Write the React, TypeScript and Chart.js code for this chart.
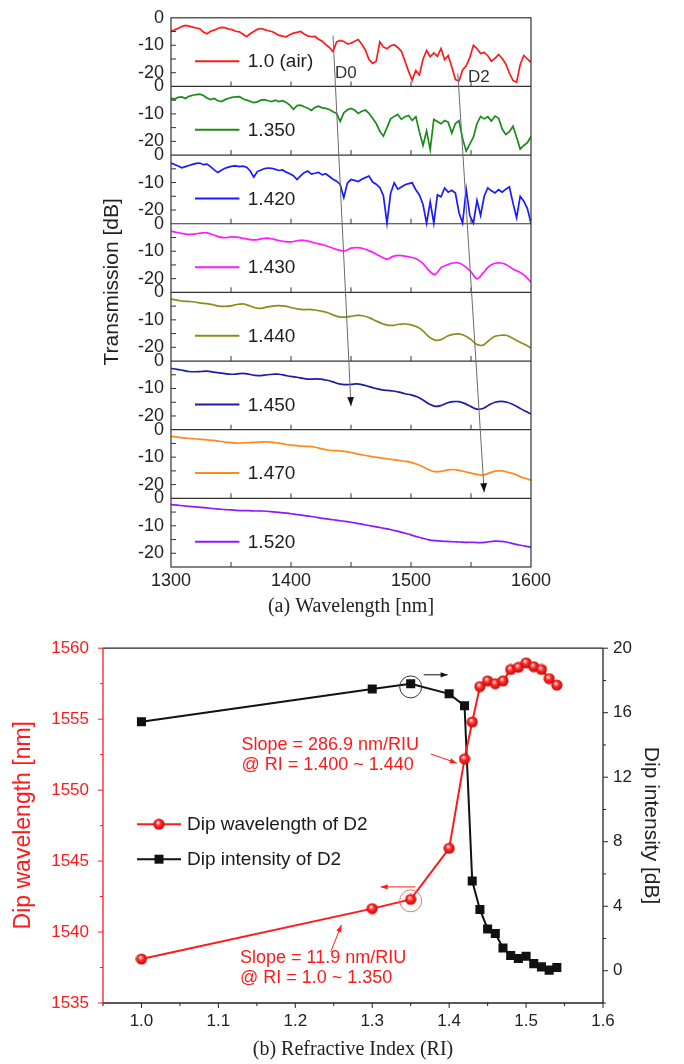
import React, { useEffect, useRef } from "react";
import { Chart, registerables } from "chart.js";
Chart.register(...registerables);

const SANS = '"Liberation Sans", Arial, sans-serif';
const SERIF = '"Liberation Serif", "Times New Roman", serif';

// ---------- (a) transmission spectra ----------
const WL_FINE = Array.from({ length: 101 }, (_, i) => 1300 + 3 * i);
const WL_COARSE = Array.from({ length: 61 }, (_, i) => 1300 + 5 * i);
const WL_TICKS = [1300, 1400, 1500, 1600];
const WL_MINOR = [1350, 1400, 1450, 1500, 1550];
const PANEL_STEP = 25;

const T_AIR = [
  -5.0, -4.4, -3.8, -3.2, -2.8, -3.0, -3.4, -3.7, -4.0, -5.2,
  -5.8, -4.9, -4.5, -3.9, -3.5, -3.6, -4.1, -4.3, -4.9, -5.1,
  -6.0, -6.9, -5.8, -5.0, -4.2, -3.9, -4.3, -4.7, -5.0, -5.6,
  -6.4, -6.7, -6.9, -6.2, -5.6, -5.3, -5.0, -5.9, -6.6, -6.9,
  -6.8, -7.8, -8.5, -9.8, -10.8, -12.3, -8.8, -8.2, -8.6, -9.5,
  -9.3, -8.5, -7.9, -9.6, -11.8, -15.2, -16.6, -15.8, -8.8, -10.6,
  -11.3, -10.2, -9.8, -10.8, -12.2, -15.8, -19.5, -22.7, -19.2, -20.8,
  -15.1, -11.9, -14.2, -12.8, -14.0, -11.2, -15.2, -13.8, -17.8, -22.5,
  -23.0, -19.0, -17.5, -14.5, -10.0, -11.2, -13.0, -12.6, -13.8, -15.8,
  -14.8, -13.4, -14.8, -16.8, -20.2, -22.8, -23.5, -17.0, -13.7, -15.0,
  -16.2,
];
const T_1350 = [
  -4.3, -4.6, -4.0, -3.8, -4.4, -3.6, -3.2, -3.0, -2.8, -3.3,
  -4.2, -4.8, -4.4, -5.2, -5.5, -4.8, -4.3, -4.0, -3.8, -3.7,
  -4.5, -5.0, -5.4, -5.9, -5.6, -5.0, -4.8, -5.2, -5.5, -5.0,
  -5.5, -5.2, -5.8, -6.8, -8.3, -7.0, -6.8, -7.4, -7.9, -8.7,
  -7.6, -7.2, -7.8, -8.0, -8.4, -9.2, -9.8, -12.7, -9.6, -8.5,
  -8.0, -8.6, -9.8, -9.0, -8.6, -9.8, -11.6, -13.5, -16.3, -18.1,
  -15.0, -11.8, -10.9, -10.2, -12.0, -11.0, -10.6, -12.4, -11.0, -16.5,
  -21.5, -16.2, -23.0, -12.0, -12.8, -13.6, -12.4, -13.0, -17.0, -13.5,
  -12.5, -19.0, -23.5, -21.0, -18.5, -13.5, -10.9, -11.8, -11.0, -12.6,
  -10.8, -11.6, -15.5, -17.5, -16.5, -14.5, -18.5, -22.8, -21.5, -20.5,
  -18.2,
];
const T_1420 = [
  -2.9, -3.4, -4.0, -4.6, -4.2, -3.8, -3.4, -3.0, -2.9, -3.5,
  -3.3, -4.2, -5.4, -6.3, -5.5, -4.8, -4.4, -4.0, -3.9, -4.2,
  -4.0, -4.4, -5.8, -8.0, -6.0, -5.4, -4.9, -4.7, -4.8, -5.2,
  -5.6, -5.4, -6.2, -6.8, -7.5, -8.9, -7.6, -6.4, -5.8, -6.9,
  -6.6, -6.3, -7.2, -6.8, -7.8, -8.8, -9.5, -10.7, -15.5, -10.2,
  -8.9, -9.2, -9.6, -8.8, -8.2, -7.6, -9.8, -10.6, -11.8, -14.8,
  -24.8, -14.0, -10.1, -12.4, -11.6, -10.8, -10.4, -10.1, -12.6, -14.5,
  -18.0, -24.8, -17.0, -24.8, -14.5, -15.2, -12.0, -13.5, -12.8, -13.8,
  -21.0, -24.8, -12.5, -22.0, -24.8, -16.5, -22.0, -15.0, -11.9, -13.0,
  -13.8, -12.6, -13.5, -12.4, -11.6, -17.5, -22.8, -15.0, -16.8, -19.5,
  -24.8,
];
const T_1430 = [
  -2.7, -3.2, -3.6, -3.9, -3.7, -3.4, -3.3, -4.0, -4.8, -5.1,
  -4.8, -4.9, -5.3, -5.7, -5.9, -5.5, -5.2, -5.6, -6.1, -6.5,
  -6.6, -6.2, -6.0, -6.4, -7.0, -7.5, -8.1, -8.9, -9.6, -9.9,
  -8.9, -8.7, -9.0, -9.8, -10.8, -12.0, -12.9, -11.9, -11.5, -11.8,
  -12.2, -12.9, -14.5, -17.0, -18.5, -16.0, -15.0, -14.3, -14.3, -15.5,
  -17.5, -20.0, -18.0, -15.5, -14.4, -14.3, -15.0, -16.5, -17.5, -19.0,
  -21.3,
];
const T_1440 = [
  -2.4, -2.8, -3.2, -3.3, -3.5, -3.9, -4.1, -4.5, -5.0, -5.1,
  -4.9, -4.4, -4.2, -4.8, -5.6, -5.8, -5.3, -5.0, -4.8, -5.0,
  -5.5, -6.0, -6.3, -6.2, -6.4, -6.8, -7.3, -8.2, -8.9, -9.0,
  -8.7, -8.4, -8.5, -9.2, -10.2, -11.2, -11.9, -12.0, -11.6, -11.5,
  -11.8, -12.5, -14.0, -16.2, -17.4, -17.2, -16.0, -15.3, -15.1, -15.8,
  -17.2, -19.0, -19.2, -17.5, -16.0, -15.6, -15.7, -16.8, -18.0, -19.0,
  -20.2,
];
const T_1450 = [
  -2.7, -3.0, -3.4, -3.8, -3.9, -3.8, -3.7, -4.0, -4.3, -4.6,
  -4.8, -4.7, -4.5, -4.8, -5.2, -5.3, -5.0, -4.8, -4.8, -5.2,
  -5.6, -5.9, -6.3, -6.6, -6.5, -6.6, -7.0, -7.6, -8.3, -8.6,
  -8.5, -8.3, -8.7, -9.3, -9.9, -10.4, -10.7, -10.9, -11.3, -11.9,
  -12.3, -13.0, -14.2, -15.6, -16.5, -16.2, -15.3, -14.8, -14.8, -15.5,
  -16.6, -17.5, -17.3, -16.0, -15.0, -14.7, -15.0, -15.8, -17.0, -18.2,
  -19.3,
];
const T_1470 = [
  -2.4, -2.7, -3.0, -3.2, -3.3, -3.5, -3.7, -3.9, -4.2, -4.5,
  -4.7, -4.9, -4.8, -4.7, -4.6, -4.5, -4.4, -4.6, -4.9, -5.3,
  -5.6, -5.8, -6.0, -6.1, -6.4, -6.9, -7.4, -7.6, -7.7, -7.9,
  -8.3, -8.8, -9.2, -9.6, -10.0, -10.3, -10.6, -10.9, -11.2, -11.5,
  -11.9, -12.6, -13.5, -14.6, -15.3, -15.2, -14.7, -14.5, -14.8, -15.3,
  -15.8, -16.3, -16.5, -15.8, -15.1, -15.0, -15.4, -16.0, -16.9, -17.7,
  -18.4,
];
const T_1520 = [
  -2.3, -2.5, -2.7, -2.9, -3.1, -3.3, -3.5, -3.7, -3.9, -4.1,
  -4.2, -4.4, -4.5, -4.5, -4.6, -4.6, -4.7, -4.9, -5.1, -5.3,
  -5.6, -5.9, -6.2, -6.5, -6.8, -7.2, -7.5, -7.8, -8.1, -8.4,
  -8.7, -9.1, -9.5, -9.9, -10.3, -10.7, -11.1, -11.6, -12.1, -12.7,
  -13.3, -14.0, -14.6, -15.1, -15.4, -15.6, -15.7, -15.8, -15.9, -16.0,
  -16.0, -16.1, -16.1, -15.8, -15.6, -15.7, -16.0, -16.5, -17.0, -17.4,
  -17.8,
];

const PANEL_LABELS = ["1.0 (air)", "1.350", "1.420", "1.430", "1.440", "1.450", "1.470", "1.520"];
const PANEL_COLORS = ["#ff1a1a", "#1a8a1a", "#1a1aff", "#ff1aff", "#8c8c1a", "#1c1ca6", "#ff8a1a", "#8c1aff"];
const PANEL_VALUES = [T_AIR, T_1350, T_1420, T_1430, T_1440, T_1450, T_1470, T_1520];
const PANEL_WL = [WL_FINE, WL_FINE, WL_FINE, WL_COARSE, WL_COARSE, WL_COARSE, WL_COARSE, WL_COARSE];
const PANEL_Y_TICKS = [0, -10, -20];
const PANEL_Y_MINOR = [-5, -10, -15, -20];

// guide arrows D0 / D2 : [wavelength, offset value] start -> end
const D0_GUIDE = [[1435, -6.5], [1450, -141.4]];
const D2_GUIDE = [[1539, -20.2], [1561, -172.8]];

// ---------- (b) dip vs RI ----------
const RI = [1.0, 1.3, 1.35, 1.4, 1.42, 1.43, 1.44, 1.45, 1.46, 1.47, 1.48, 1.49, 1.5, 1.51, 1.52, 1.53, 1.54];
const DIP_WAVELENGTH = [1538.1, 1541.65, 1542.3, 1545.9, 1552.2, 1554.8, 1557.3, 1557.7, 1557.5, 1557.7, 1558.5, 1558.65, 1558.97, 1558.7, 1558.5, 1557.86, 1557.4];
const DIP_INTENSITY = [15.44, 17.47, 17.79, 17.17, 16.43, 5.56, 3.8, 2.59, 2.31, 1.41, 0.94, 0.76, 0.9, 0.44, 0.24, 0.04, 0.2];
const RI_TICKS = [1.0, 1.1, 1.2, 1.3, 1.4, 1.5, 1.6];
const WL_AXIS_TICKS = [1535, 1540, 1545, 1550, 1555, 1560];
const INT_AXIS_TICKS = [0, 4, 8, 12, 16, 20];

const RED = "#ff1a1a";

function line(ctx: CanvasRenderingContext2D, x1: number, y1: number, x2: number, y2: number) {
  ctx.beginPath();
  ctx.moveTo(x1, y1);
  ctx.lineTo(x2, y2);
  ctx.stroke();
}

function arrow(ctx: CanvasRenderingContext2D, x1: number, y1: number, x2: number, y2: number, color: string, headColor: string, head = 7, width = 1) {
  ctx.strokeStyle = color;
  ctx.lineWidth = width;
  line(ctx, x1, y1, x2, y2);
  const a = Math.atan2(y2 - y1, x2 - x1);
  const w = head * 0.38;
  ctx.fillStyle = headColor;
  ctx.beginPath();
  ctx.moveTo(x2, y2);
  ctx.lineTo(x2 - head * Math.cos(a) + w * Math.sin(a), y2 - head * Math.sin(a) - w * Math.cos(a));
  ctx.lineTo(x2 - head * Math.cos(a) - w * Math.sin(a), y2 - head * Math.sin(a) + w * Math.cos(a));
  ctx.closePath();
  ctx.fill();
}

function rotatedText(ctx: CanvasRenderingContext2D, text: string, x: number, y: number, font: string, color: string) {
  ctx.save();
  ctx.translate(x, y);
  ctx.rotate(-Math.PI / 2);
  ctx.font = font;
  ctx.fillStyle = color;
  ctx.textAlign = "center";
  ctx.textBaseline = "middle";
  ctx.fillText(text, 0, 0);
  ctx.restore();
}

function makeSphere(d: number) {
  const c = document.createElement("canvas");
  c.width = d;
  c.height = d;
  const g = c.getContext("2d")!;
  const r = d / 2;
  const grad = g.createRadialGradient(r * 0.8, r * 0.7, r * 0.1, r, r, r);
  grad.addColorStop(0, "#ffd6d6");
  grad.addColorStop(0.35, "#ff3030");
  grad.addColorStop(1, "#c40000");
  g.fillStyle = grad;
  g.beginPath();
  g.arc(r, r, r - 0.4, 0, Math.PI * 2);
  g.fill();
  return c;
}

const localLabel = (v: number) => {
  const local = v - PANEL_STEP * Math.ceil(v / PANEL_STEP - 1e-9);
  return String(Math.round(local) === 0 ? 0 : Math.round(local));
};

const topPlugin = {
  id: "topDecor",
  afterDatasetsDraw(chart: any) {
    const { ctx, chartArea: a, scales } = chart;
    const x = scales.x;
    const y = scales.y;
    ctx.save();
    ctx.strokeStyle = "#333";
    ctx.lineWidth = 1.2;
    ctx.strokeRect(a.left, a.top, a.right - a.left, a.bottom - a.top);
    for (let k = 1; k < PANEL_LABELS.length; k++) {
      const py = y.getPixelForValue(-PANEL_STEP * k);
      line(ctx, a.left, py, a.right, py);
    }
    ctx.lineWidth = 1;
    for (let k = 0; k < PANEL_LABELS.length; k++) {
      for (const v of PANEL_Y_MINOR) {
        const py = y.getPixelForValue(v - PANEL_STEP * k);
        line(ctx, a.left, py, a.left + 5, py);
      }
      const pb = y.getPixelForValue(-PANEL_STEP * (k + 1));
      for (const w of WL_MINOR) {
        const px = x.getPixelForValue(w);
        line(ctx, px, pb, px, pb - 5);
      }
    }
    // panel legends
    ctx.font = `19px ${SANS}`;
    ctx.textBaseline = "middle";
    ctx.textAlign = "left";
    for (let k = 0; k < PANEL_LABELS.length; k++) {
      const py = y.getPixelForValue(-15.8 - PANEL_STEP * k);
      ctx.strokeStyle = PANEL_COLORS[k];
      ctx.lineWidth = 2;
      line(ctx, x.getPixelForValue(1320), py, x.getPixelForValue(1357), py);
      ctx.fillStyle = "#1e1e1e";
      ctx.fillText(PANEL_LABELS[k], x.getPixelForValue(1364), py + 1);
    }
    // guide arrows
    for (const g of [D0_GUIDE, D2_GUIDE]) {
      arrow(ctx, x.getPixelForValue(g[0][0]), y.getPixelForValue(g[0][1]), x.getPixelForValue(g[1][0]), y.getPixelForValue(g[1][1]), "#6a6a6a", "#111", 9, 1);
    }
    ctx.fillStyle = "#333";
    ctx.font = `17px ${SANS}`;
    ctx.fillText("D0", x.getPixelForValue(1436.7), y.getPixelForValue(-20.3));
    ctx.fillText("D2", x.getPixelForValue(1547.5), y.getPixelForValue(-21.5));
    // y title
    rotatedText(ctx, "Transmission [dB]", a.left - 59, a.top + 264, `21px ${SANS}`, "#222");
    ctx.restore();
  },
};

const bottomPlugin = {
  id: "bottomDecor",
  afterDatasetsDraw(chart: any) {
    const { ctx, chartArea: a, scales } = chart;
    const x = scales.x;
    const y = scales.y;
    const y1 = scales.y1;
    ctx.save();
    // frame
    ctx.lineWidth = 1.3;
    ctx.strokeStyle = "#222";
    line(ctx, a.left, a.top, a.right, a.top);
    line(ctx, a.right, a.top, a.right, a.bottom);
    line(ctx, a.left, a.bottom, a.right, a.bottom);
    ctx.strokeStyle = RED;
    line(ctx, a.left, a.top, a.left, a.bottom);
    // ticks
    ctx.lineWidth = 1;
    for (let v = 1535; v <= 1560; v += 2.5) {
      const py = y.getPixelForValue(v);
      line(ctx, a.left, py, a.left - (v % 5 === 0 ? 5 : 3), py);
    }
    ctx.strokeStyle = "#222";
    for (let v = -2; v <= 20; v += 2) {
      const py = y1.getPixelForValue(v);
      line(ctx, a.right, py, a.right + (v % 4 === 0 ? 5 : 3), py);
    }
    for (let i = 0; i <= 13; i++) {
      const v = 0.95 + i * 0.05;
      const px = x.getPixelForValue(v);
      line(ctx, px, a.bottom, px, a.bottom + (i % 2 === 1 ? 5 : 3));
    }
    // legend
    const sphere = makeSphere(12);
    const ly1 = a.top + 176;
    const ly2 = a.top + 211;
    ctx.lineWidth = 2;
    ctx.strokeStyle = RED;
    line(ctx, a.left + 34, ly1, a.left + 78, ly1);
    ctx.drawImage(sphere, a.left + 56 - 6, ly1 - 6);
    ctx.strokeStyle = "#111";
    line(ctx, a.left + 34, ly2, a.left + 78, ly2);
    ctx.fillStyle = "#111";
    ctx.fillRect(a.left + 56 - 4.5, ly2 - 4.5, 9, 9);
    ctx.font = `19px ${SANS}`;
    ctx.textAlign = "left";
    ctx.textBaseline = "middle";
    ctx.fillStyle = "#1a1a1a";
    ctx.fillText("Dip wavelength of D2", a.left + 84, ly1 + 1);
    ctx.fillText("Dip intensity of D2", a.left + 84, ly2 + 1);
    // annotations
    ctx.fillStyle = RED;
    ctx.font = `18px ${SANS}`;
    ctx.fillText("Slope = 286.9 nm/RIU", x.getPixelForValue(1.13), y.getPixelForValue(1553.2));
    ctx.fillText("@ RI = 1.400 ~ 1.440", x.getPixelForValue(1.13), y.getPixelForValue(1551.8));
    ctx.fillText("Slope = 11.9 nm/RIU", x.getPixelForValue(1.128), y.getPixelForValue(1538.14));
    ctx.fillText("@ RI = 1.0 ~ 1.350", x.getPixelForValue(1.128), y.getPixelForValue(1536.76));
    arrow(ctx, x.getPixelForValue(1.376), y.getPixelForValue(1552.55), x.getPixelForValue(1.41), y.getPixelForValue(1551.9), RED, RED, 7, 1);
    arrow(ctx, x.getPixelForValue(1.246), y.getPixelForValue(1538.6), x.getPixelForValue(1.26), y.getPixelForValue(1540.5), RED, RED, 7, 1);
    arrow(ctx, x.getPixelForValue(1.356), y.getPixelForValue(1543.18), x.getPixelForValue(1.311), y.getPixelForValue(1543.18), RED, RED, 7, 1);
    arrow(ctx, x.getPixelForValue(1.367), y1.getPixelForValue(18.35), x.getPixelForValue(1.398), y1.getPixelForValue(18.35), "#111", "#111", 7, 1);
    ctx.lineWidth = 1;
    ctx.strokeStyle = "#333";
    ctx.beginPath();
    ctx.arc(x.getPixelForValue(1.35), y1.getPixelForValue(17.6), 11, 0, Math.PI * 2);
    ctx.stroke();
    ctx.strokeStyle = "#ff6a6a";
    ctx.beginPath();
    ctx.arc(x.getPixelForValue(1.35), y.getPixelForValue(1542.2), 11, 0, Math.PI * 2);
    ctx.stroke();
    // left title
    rotatedText(ctx, "Dip wavelength [nm]", 24, a.top + 177, `23px ${SANS}`, RED);
    ctx.restore();
  },
};

export default function App() {
  const topRef = useRef<HTMLCanvasElement>(null);
  const botRef = useRef<HTMLCanvasElement>(null);

  useEffect(() => {
    const topDatasets = PANEL_VALUES.map((vals, k) => ({
      label: PANEL_LABELS[k],
      data: PANEL_WL[k].map((w, i) => ({ x: w, y: vals[i] - PANEL_STEP * k })),
      borderColor: PANEL_COLORS[k],
      borderWidth: 1.7,
      pointRadius: 0,
      tension: k >= 3 ? 0.35 : 0,
      fill: false,
    }));

    const c1 = new Chart(topRef.current!, {
      type: "line",
      data: { datasets: topDatasets as any },
      options: {
        responsive: false,
        animation: false,
        events: [],
        layout: { padding: { top: 14, right: 153, left: 0, bottom: 0 } },
        plugins: { legend: { display: false }, tooltip: { enabled: false } },
        scales: {
          x: {
            type: "linear",
            min: 1300,
            max: 1600,
            afterBuildTicks: (s: any) => { s.ticks = WL_TICKS.map((v) => ({ value: v })); },
            afterFit: (s: any) => { s.height = 57; },
            grid: { display: false, drawTicks: false },
            border: { display: false },
            ticks: { padding: 3, color: "#222", font: { family: SANS, size: 18 }, autoSkip: false, maxRotation: 0, callback: (v: any) => String(v) },
            title: { display: true, text: "(a) Wavelength [nm]", color: "#222", font: { family: SERIF, size: 20 }, padding: { top: 0, bottom: 5 } },
          },
          y: {
            type: "linear",
            min: -PANEL_STEP * PANEL_LABELS.length,
            max: 0,
            afterBuildTicks: (s: any) => {
              const t: any[] = [];
              for (let k = 0; k < PANEL_LABELS.length; k++) for (const v of PANEL_Y_TICKS) t.push({ value: v - PANEL_STEP * k });
              s.ticks = t;
            },
            afterFit: (s: any) => { s.width = 171; },
            grid: { display: false, drawTicks: false },
            border: { display: false },
            ticks: { padding: 7, color: "#222", font: { family: SANS, size: 18 }, autoSkip: false, callback: (v: any) => localLabel(Number(v)) },
            title: { display: false },
          },
        },
      },
      plugins: [topPlugin],
    } as any);

    const sphere = makeSphere(12);
    const c2 = new Chart(botRef.current!, {
      type: "line",
      data: {
        datasets: [
          {
            label: "Dip wavelength of D2",
            data: RI.map((r, i) => ({ x: r, y: DIP_WAVELENGTH[i] })),
            yAxisID: "y",
            borderColor: RED,
            borderWidth: 2,
            pointStyle: sphere,
            pointRadius: 6,
            tension: 0,
          },
          {
            label: "Dip intensity of D2",
            data: RI.map((r, i) => ({ x: r, y: DIP_INTENSITY[i] })),
            yAxisID: "y1",
            borderColor: "#111",
            backgroundColor: "#111",
            borderWidth: 2,
            pointStyle: "rect",
            pointRadius: 6.4,
            pointBorderWidth: 0,
            tension: 0,
          },
        ],
      },
      options: {
        responsive: false,
        animation: false,
        events: [],
        layout: { padding: { top: 13, right: 0, left: 0, bottom: 0 } },
        plugins: { legend: { display: false }, tooltip: { enabled: false } },
        scales: {
          x: {
            type: "linear",
            min: 0.95,
            max: 1.6,
            afterBuildTicks: (s: any) => { s.ticks = RI_TICKS.map((v) => ({ value: v })); },
            afterFit: (s: any) => { s.height = 61; },
            grid: { display: false, drawTicks: false },
            border: { display: false },
            ticks: { padding: 8, color: "#222", font: { family: SANS, size: 17 }, autoSkip: false, maxRotation: 0, callback: (v: any) => Number(v).toFixed(1) },
            title: { display: true, text: "(b) Refractive Index (RI)", color: "#222", font: { family: SERIF, size: 20 }, padding: { top: 0, bottom: 2 } },
          },
          y: {
            type: "linear",
            position: "left",
            min: 1535,
            max: 1560,
            afterBuildTicks: (s: any) => { s.ticks = WL_AXIS_TICKS.map((v) => ({ value: v })); },
            afterFit: (s: any) => { s.width = 103; },
            grid: { display: false, drawTicks: false },
            border: { display: false },
            ticks: { padding: 14, color: RED, font: { family: SANS, size: 17 }, autoSkip: false, callback: (v: any) => String(v) },
            title: { display: false },
          },
          y1: {
            type: "linear",
            position: "right",
            min: -2,
            max: 20,
            afterBuildTicks: (s: any) => { s.ticks = INT_AXIS_TICKS.map((v) => ({ value: v })); },
            afterFit: (s: any) => { s.width = 81; },
            grid: { display: false, drawTicks: false },
            border: { display: false },
            ticks: { padding: 10, color: "#222", font: { family: SANS, size: 17 }, autoSkip: false, callback: (v: any) => String(v) },
            title: { display: true, text: "Dip intensity [dB]", color: "#222", font: { family: SANS, size: 21 }, padding: { top: 21, bottom: 0 } },
          },
        },
      },
      plugins: [bottomPlugin],
    } as any);

    return () => {
      c1.destroy();
      c2.destroy();
    };
  }, []);

  return (
    <div style={{ position: "fixed", left: 0, top: 0, width: 684, height: 1064, background: "#fff" }}>
      <canvas ref={topRef} width={684} height={624} style={{ display: "block" }} />
      <canvas ref={botRef} width={684} height={440} style={{ display: "block" }} />
    </div>
  );
}
